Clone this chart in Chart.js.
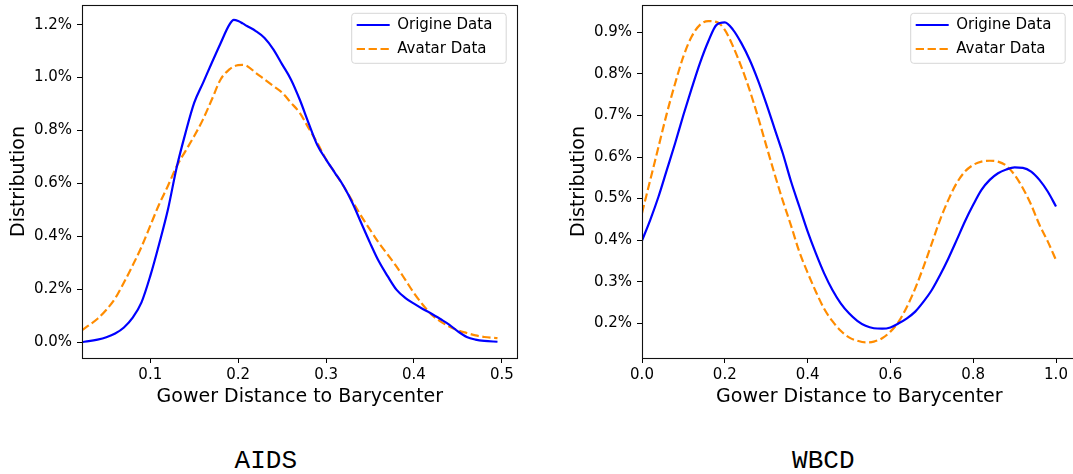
<!DOCTYPE html>
<html><head><meta charset="utf-8">
<script src="https://cdn.jsdelivr.net/npm/chart.js@4"></script>
<style>
html,body{margin:0;padding:0;background:#fff;overflow:hidden;width:1073px;height:474px;}
.wrap{position:absolute;top:0;}
.wrap canvas{display:block;}
.cap{position:absolute;top:448px;width:200px;text-align:center;font-family:"Liberation Mono",monospace;font-size:26px;line-height:26px;color:#000;}
</style></head><body>
<div class="wrap" style="left:0"><canvas id="c1" width="540" height="420"></canvas></div>
<div class="wrap" style="left:560px"><canvas id="c2" width="540" height="420"></canvas></div>
<div class="cap" style="left:165.8px">AIDS</div>
<div class="cap" style="left:723.3px">WBCD</div>
<script>
const legendLabels = ['Origine Data', 'Avatar Data'];
const xTitle = 'Gower Distance to Barycenter';
const yTitle = 'Distribution';

// AIDS panel
const aidsX = [0.0223, 0.03, 0.04, 0.05, 0.06, 0.07, 0.08, 0.09, 0.10, 0.11, 0.12, 0.13, 0.14, 0.15, 0.16, 0.17, 0.18, 0.19, 0.195, 0.20, 0.205, 0.21, 0.22, 0.23, 0.24, 0.25, 0.26, 0.27, 0.28, 0.29, 0.30, 0.31, 0.32, 0.33, 0.34, 0.35, 0.36, 0.37, 0.38, 0.39, 0.40, 0.41, 0.42, 0.43, 0.44, 0.45, 0.46, 0.47, 0.48, 0.495];
const aidsOrigine = [0.0, 0.003, 0.009, 0.018, 0.032, 0.055, 0.092, 0.150, 0.25, 0.37, 0.50, 0.66, 0.79, 0.905, 0.98, 1.056, 1.13, 1.20, 1.218, 1.214, 1.205, 1.195, 1.176, 1.15, 1.107, 1.05, 0.993, 0.917, 0.829, 0.745, 0.69, 0.64, 0.589, 0.526, 0.45, 0.375, 0.305, 0.249, 0.198, 0.167, 0.145, 0.125, 0.107, 0.087, 0.066, 0.040, 0.019, 0.009, 0.004, 0.001];
const aidsAvatar = [0.045, 0.063, 0.088, 0.122, 0.165, 0.225, 0.29, 0.36, 0.44, 0.52, 0.59, 0.665, 0.722, 0.779, 0.842, 0.917, 0.993, 1.031, 1.042, 1.047, 1.048, 1.044, 1.018, 0.993, 0.968, 0.943, 0.905, 0.867, 0.81, 0.753, 0.69, 0.64, 0.589, 0.532, 0.476, 0.425, 0.375, 0.331, 0.286, 0.236, 0.185, 0.141, 0.103, 0.078, 0.059, 0.044, 0.034, 0.025, 0.019, 0.015];
const aidsXTicks = [0.1, 0.2, 0.3, 0.4, 0.5];
const aidsYTicks = [0.0, 0.2, 0.4, 0.6, 0.8, 1.0, 1.2];

// WBCD panel
const wbcdX = [0.00, 0.02, 0.04, 0.06, 0.08, 0.10, 0.12, 0.14, 0.16, 0.18, 0.20, 0.22, 0.24, 0.26, 0.28, 0.30, 0.32, 0.34, 0.36, 0.38, 0.40, 0.42, 0.44, 0.46, 0.48, 0.50, 0.52, 0.54, 0.56, 0.58, 0.60, 0.62, 0.64, 0.66, 0.68, 0.70, 0.72, 0.74, 0.76, 0.78, 0.80, 0.82, 0.84, 0.86, 0.88, 0.90, 0.92, 0.94, 0.96, 0.98, 1.00];
const wbcdOrigine = [0.399, 0.449, 0.505, 0.569, 0.633, 0.701, 0.765, 0.826, 0.878, 0.918, 0.924, 0.906, 0.874, 0.834, 0.785, 0.729, 0.669, 0.609, 0.541, 0.481, 0.421, 0.368, 0.32, 0.28, 0.248, 0.224, 0.206, 0.194, 0.188, 0.187, 0.19, 0.2, 0.212, 0.228, 0.252, 0.28, 0.316, 0.356, 0.40, 0.445, 0.485, 0.521, 0.545, 0.561, 0.57, 0.575, 0.574, 0.565, 0.545, 0.517, 0.481];
const wbcdAvatar = [0.465, 0.545, 0.625, 0.705, 0.777, 0.842, 0.89, 0.918, 0.927, 0.925, 0.906, 0.866, 0.817, 0.761, 0.697, 0.628, 0.56, 0.495, 0.435, 0.372, 0.322, 0.276, 0.235, 0.205, 0.182, 0.166, 0.158, 0.154, 0.156, 0.164, 0.18, 0.204, 0.24, 0.284, 0.336, 0.392, 0.449, 0.497, 0.537, 0.565, 0.581, 0.589, 0.591, 0.589, 0.579, 0.557, 0.525, 0.485, 0.437, 0.397, 0.352];
const wbcdXTicks = [0.0, 0.2, 0.4, 0.6, 0.8, 1.0];
const wbcdYTicks = [0.2, 0.3, 0.4, 0.5, 0.6, 0.7, 0.8, 0.9];

Chart.defaults.font.family = "'DejaVu Sans', sans-serif";
Chart.defaults.color = '#000';

const framePlugin = {
  id: 'frameLegend',
  afterLayout(chart) {
    const a = chart.chartArea, lg = chart.legend;
    const boxLeft = a.right - 11.5 - 154.5;
    const boxTop = a.top + 8.3;
    const pad = lg.options.labels.padding;
    lg.left = boxLeft + 5 - pad;
    lg.top = boxTop + 11.7 - pad - 7.5;
  },
  beforeDraw(chart) {
    const a = chart.chartArea, ctx = chart.ctx;
    const x = a.right - 11.5 - 154.5, y = a.top + 8.3, w = 154.5, h = 50, r = 3;
    ctx.save();
    ctx.beginPath();
    ctx.moveTo(x + r, y);
    ctx.arcTo(x + w, y, x + w, y + h, r);
    ctx.arcTo(x + w, y + h, x, y + h, r);
    ctx.arcTo(x, y + h, x, y, r);
    ctx.arcTo(x, y, x + w, y, r);
    ctx.closePath();
    ctx.fillStyle = 'rgba(255,255,255,0.8)';
    ctx.fill();
    ctx.strokeStyle = '#d6d6d6';
    ctx.lineWidth = 1;
    ctx.stroke();
    ctx.restore();
  },
  afterDatasetsDraw(chart) {
    const a = chart.chartArea, ctx = chart.ctx;
    const l = Math.round(a.left) + 0.5, t = Math.round(a.top) + 0.5;
    const rr = Math.round(a.right - 0.5) + 0.5, b = Math.round(a.bottom) + 0.5;
    ctx.save();
    ctx.strokeStyle = '#111';
    ctx.lineWidth = 1.1;
    ctx.strokeRect(l, t, rr - l, b - t);
    ctx.restore();
  }
};

function ds(label, xs, ys, color, dash) {
  return {
    label, data: xs.map((x, i) => ({x: x, y: ys[i]})),
    borderColor: color, backgroundColor: color, borderWidth: 2.2, borderDash: dash,
    pointRadius: 0, fill: false, cubicInterpolationMode: 'monotone'
  };
}

function legendItems(chart) {
  const items = Chart.defaults.plugins.legend.labels.generateLabels(chart);
  items.forEach(it => {
    const d = chart.data.datasets[it.datasetIndex];
    it.lineDash = d.borderDash;
    it.strokeStyle = d.borderColor;
    it.fillStyle = d.borderColor;
    it.lineWidth = d.borderWidth;
  });
  return items;
}

function makeChart(id, xs, orig, avat, xMin, xMax, yMin, yMax, xTicks, yTicks, padRight) {
  return new Chart(document.getElementById(id), {
    type: 'line',
    data: { datasets: [
      ds(legendLabels[0], xs, orig, '#0000ff', []),
      ds(legendLabels[1], xs, avat, '#ff8c00', [8.3, 3.6])
    ]},
    options: {
      responsive: false, animation: false, devicePixelRatio: 1,
      layout: { padding: { top: 5, right: padRight, bottom: 0, left: 0 } },
      plugins: {
        tooltip: { enabled: false },
        legend: {
          position: 'chartArea', align: 'start',
          labels: { usePointStyle: true, pointStyle: 'line', pointStyleWidth: 33, padding: 9, font: { size: 15 }, color: '#000', generateLabels: legendItems }
        }
      },
      scales: {
        x: {
          type: 'linear', min: xMin, max: xMax,
          afterFit: s => { s.height = 62; s.paddingLeft = 0; s.paddingRight = 0; },
          afterBuildTicks: s => { s.ticks = xTicks.map(v => ({ value: v })); },
          ticks: { callback: v => Number(v).toFixed(1), font: { size: 15 }, color: '#000', padding: 3, autoSkip: false, maxRotation: 0 },
          grid: { drawOnChartArea: false, drawTicks: true, tickLength: 5, color: '#000', lineWidth: 1 },
          border: { display: false },
          title: { display: true, text: xTitle, font: { size: 19 }, color: '#000', padding: { top: 0, bottom: 12 } }
        },
        y: {
          type: 'linear', min: yMin, max: yMax,
          afterFit: s => { s.width = 82; s.paddingTop = 0; s.paddingBottom = 0; },
          afterBuildTicks: s => { s.ticks = yTicks.map(v => ({ value: v })); },
          ticks: { callback: v => Number(v).toFixed(1) + '%', font: { size: 15 }, color: '#000', padding: 5, autoSkip: false },
          grid: { drawOnChartArea: false, drawTicks: true, tickLength: 5, color: '#000', lineWidth: 1 },
          border: { display: false },
          title: { display: true, text: yTitle, font: { size: 19 }, color: '#000', padding: { top: 7.5, bottom: 0 } }
        }
      }
    },
    plugins: [framePlugin]
  });
}

makeChart('c1', aidsX, aidsOrigine, aidsAvatar, 0.0223, 0.518, -0.0605, 1.2745, aidsXTicks, aidsYTicks, 22.3);
makeChart('c2', wbcdX, wbcdOrigine, wbcdAvatar, 0.0, 1.05, 0.1165, 0.9657, wbcdXTicks, wbcdYTicks, 23.3);
</script>
</body></html>
